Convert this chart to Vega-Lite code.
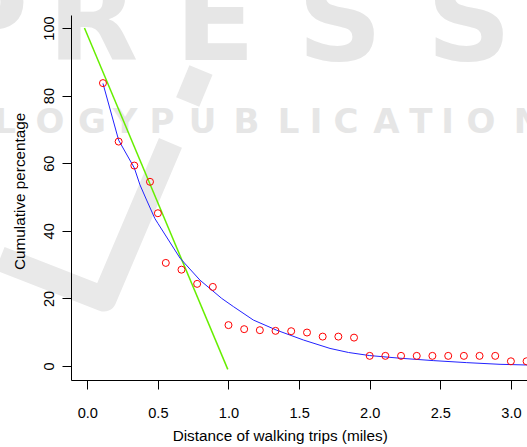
{
  "$schema": "https://vega.github.io/schema/vega-lite/v6.json",
  "width": 456,
  "height": 365,
  "autosize": {"type": "none"},
  "padding": {"left": 71, "top": 15, "right": 0, "bottom": 67},
  "background": "white",
  "config": {
    "view": {"stroke": null},
    "font": "Liberation Sans",
    "axis": {"grid": false}
  },
  "datasets": {
    "obs": [
      {"distance": 0.111, "pct": 83.7},
      {"distance": 0.222, "pct": 66.4},
      {"distance": 0.333, "pct": 59.3},
      {"distance": 0.444, "pct": 54.5},
      {"distance": 0.5, "pct": 45.2},
      {"distance": 0.556, "pct": 30.5},
      {"distance": 0.667, "pct": 28.5},
      {"distance": 0.778, "pct": 24.3},
      {"distance": 0.889, "pct": 23.4},
      {"distance": 1.0, "pct": 12.1},
      {"distance": 1.111, "pct": 10.9},
      {"distance": 1.222, "pct": 10.6},
      {"distance": 1.333, "pct": 10.4},
      {"distance": 1.444, "pct": 10.3},
      {"distance": 1.556, "pct": 9.9},
      {"distance": 1.667, "pct": 8.7},
      {"distance": 1.778, "pct": 8.7},
      {"distance": 1.889, "pct": 8.4},
      {"distance": 2.0, "pct": 3.0},
      {"distance": 2.111, "pct": 3.0},
      {"distance": 2.222, "pct": 3.0},
      {"distance": 2.333, "pct": 3.0},
      {"distance": 2.444, "pct": 3.0},
      {"distance": 2.556, "pct": 3.0},
      {"distance": 2.667, "pct": 3.0},
      {"distance": 2.778, "pct": 3.0},
      {"distance": 2.889, "pct": 3.0},
      {"distance": 3.0, "pct": 1.4},
      {"distance": 3.111, "pct": 1.4}
    ],
    "curve": [
      {"distance": 0.111, "pct": 83.6},
      {"distance": 0.222, "pct": 66.8},
      {"distance": 0.333, "pct": 58.6},
      {"distance": 0.373, "pct": 53.6},
      {"distance": 0.42, "pct": 49.1},
      {"distance": 0.479, "pct": 43.6},
      {"distance": 0.5, "pct": 42.2},
      {"distance": 0.657, "pct": 31.9},
      {"distance": 0.798, "pct": 25.4},
      {"distance": 0.952, "pct": 20.0},
      {"distance": 1.034, "pct": 17.6},
      {"distance": 1.176, "pct": 13.6},
      {"distance": 1.341, "pct": 10.6},
      {"distance": 1.53, "pct": 7.7},
      {"distance": 1.719, "pct": 5.2},
      {"distance": 1.85, "pct": 4.0},
      {"distance": 1.997, "pct": 3.1},
      {"distance": 2.215, "pct": 2.3},
      {"distance": 2.45, "pct": 1.6},
      {"distance": 2.687, "pct": 1.0},
      {"distance": 2.923, "pct": 0.5},
      {"distance": 3.114, "pct": 0.3}
    ],
    "linear": [
      {"distance": -0.02, "pct": 100.0},
      {"distance": 0.995, "pct": -1.0}
    ],
    "watermark_big": [
      {"letter": "P", "distance": -0.725, "pct": 90.5},
      {"letter": "R", "distance": 0.04, "pct": 90.5},
      {"letter": "E", "distance": 0.904, "pct": 90.5},
      {"letter": "S", "distance": 1.789, "pct": 90.5},
      {"letter": "S", "distance": 2.703, "pct": 90.5}
    ],
    "watermark_small": [
      {"letter": "L", "distance": -0.583, "pct": 68.9},
      {"letter": "O", "distance": -0.264, "pct": 68.9},
      {"letter": "G", "distance": 0.033, "pct": 68.9},
      {"letter": "Y", "distance": 0.267, "pct": 68.9},
      {"letter": "P", "distance": 0.529, "pct": 68.9},
      {"letter": "U", "distance": 0.816, "pct": 68.9},
      {"letter": "B", "distance": 1.127, "pct": 68.9},
      {"letter": "L", "distance": 1.425, "pct": 68.9},
      {"letter": "I", "distance": 1.62, "pct": 68.9},
      {"letter": "C", "distance": 1.832, "pct": 68.9},
      {"letter": "A", "distance": 2.119, "pct": 68.9},
      {"letter": "T", "distance": 2.363, "pct": 68.9},
      {"letter": "I", "distance": 2.551, "pct": 68.9},
      {"letter": "O", "distance": 2.788, "pct": 68.9},
      {"letter": "N", "distance": 3.121, "pct": 68.9},
      {"letter": "S", "distance": 3.418, "pct": 68.9}
    ],
    "watermark_v": [
      {"seg": "a", "seq": 1, "distance": -0.618, "pct": 31.8},
      {"seg": "a", "seq": 2, "distance": 0.118, "pct": 19.8},
      {"seg": "a", "seq": 3, "distance": 0.589, "pct": 66.0},
      {"seg": "b", "seq": 1, "distance": 0.711, "pct": 78.1},
      {"seg": "b", "seq": 2, "distance": 0.805, "pct": 87.6}
    ]
  },
  "encoding": {
    "x": {
      "field": "distance",
      "type": "quantitative",
      "scale": {"domain": [-0.1154, 3.114], "nice": false, "zero": false},
      "axis": {
        "zindex": 1,
        "values": [0, 0.5, 1, 1.5, 2, 2.5, 3],
        "format": ".1f",
        "title": "Distance of walking trips (miles)",
        "domainColor": "#000000",
        "domainWidth": 1,
        "tickColor": "#000000",
        "tickSize": 9,
        "labelFontSize": 14.6,
        "labelColor": "#000000",
        "labelPadding": 16.6,
        "labelFlush": false,
        "labelOverlap": false,
        "titleFontSize": 15.3,
        "titleFontWeight": "normal",
        "titleColor": "#000000",
        "titleX": 208.7,
        "titleY": 60.7,
        "titleAlign": "center",
        "titleBaseline": "alphabetic"
      }
    },
    "y": {
      "field": "pct",
      "type": "quantitative",
      "scale": {"domain": [-4.14, 103.85], "nice": false, "zero": false},
      "axis": {
        "zindex": 1,
        "values": [0, 20, 40, 60, 80, 100],
        "title": "Cumulative percentage",
        "domainColor": "#000000",
        "domainWidth": 1,
        "tickColor": "#000000",
        "tickSize": 9,
        "labelAngle": -90,
        "labelAlign": "center",
        "labelBaseline": "alphabetic",
        "labelFontSize": 14.6,
        "labelColor": "#000000",
        "labelPadding": 9,
        "labelFlush": false,
        "labelOverlap": false,
        "titleFontSize": 15.3,
        "titleFontWeight": "normal",
        "titleColor": "#000000",
        "titleAngle": -90,
        "titleX": -46.3,
        "titleY": 175.8,
        "titleAlign": "center",
        "titleBaseline": "alphabetic"
      }
    }
  },
  "layer": [
    {
      "data": {"name": "watermark_v"},
      "mark": {"type": "line", "color": "#e9e9e9", "strokeWidth": 25, "strokeCap": "butt", "strokeJoin": "round", "clip": false},
      "encoding": {
        "detail": {"field": "seg"},
        "order": {"field": "seq", "type": "quantitative"}
      }
    },
    {
      "data": {"name": "watermark_big"},
      "mark": {"type": "text", "font": "DejaVu Sans", "fontWeight": "bold", "fontSize": 118, "color": "#e6e6e6", "align": "center", "baseline": "alphabetic", "clip": false},
      "encoding": {"text": {"field": "letter"}}
    },
    {
      "data": {"name": "watermark_small"},
      "mark": {"type": "text", "font": "DejaVu Sans", "fontWeight": "bold", "fontSize": 34, "color": "#e6e6e6", "align": "center", "baseline": "alphabetic", "clip": false},
      "encoding": {"text": {"field": "letter"}}
    },
    {
      "data": {"name": "linear"},
      "mark": {"type": "line", "color": "#66EE00", "strokeWidth": 1.5, "clip": true}
    },
    {
      "data": {"name": "curve"},
      "mark": {"type": "line", "color": "#2222FF", "strokeWidth": 1, "clip": true}
    },
    {
      "data": {"name": "obs"},
      "mark": {"type": "point", "shape": "circle", "filled": false, "color": "#FF0000", "strokeWidth": 1, "size": 49, "opacity": 1, "clip": true}
    }
  ]
}
